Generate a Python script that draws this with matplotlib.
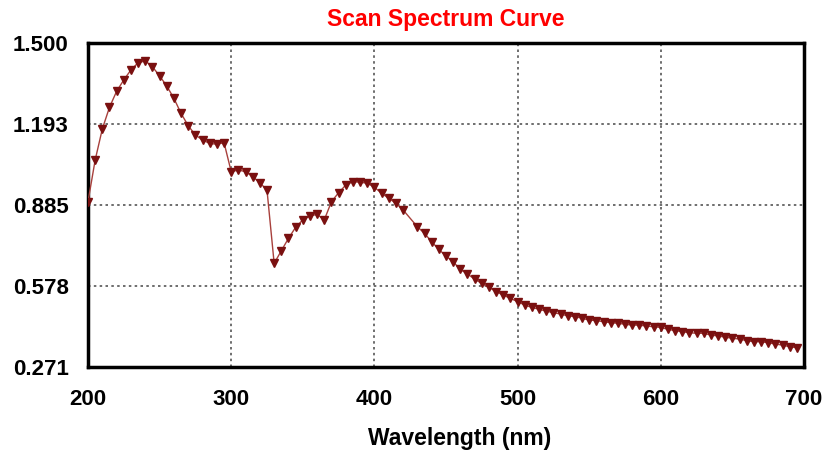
import matplotlib
matplotlib.use("Agg")
import matplotlib.pyplot as plt
import numpy as np

wavelength = [200, 205, 210, 215, 220, 225, 230, 235, 240, 245,
              250, 255, 260, 265, 270, 275, 280, 285, 290, 295,
              300, 305, 310, 315, 320, 325, 330, 335, 340, 345,
              350, 355, 360, 365, 370, 375, 380, 385, 390, 395,
              400, 405, 410, 415, 420, 430, 435, 440, 445, 450,
              455, 460, 465, 470, 475, 480, 485, 490, 495, 500,
              505, 510, 515, 520, 525, 530, 535, 540, 545, 550,
              555, 560, 565, 570, 575, 580, 585, 590, 595, 600,
              605, 610, 615, 620, 625, 630, 635, 640, 645, 650,
              655, 660, 665, 670, 675, 680, 685, 690, 695]
absorbance = [0.898, 1.056, 1.174, 1.256, 1.317, 1.360, 1.398, 1.425, 1.432, 1.410,
              1.375, 1.337, 1.290, 1.233, 1.186, 1.151, 1.132, 1.119, 1.116, 1.122,
              1.012, 1.018, 1.012, 0.993, 0.970, 0.942, 0.664, 0.712, 0.759, 0.801,
              0.829, 0.844, 0.850, 0.829, 0.898, 0.932, 0.961, 0.974, 0.972, 0.968,
              0.953, 0.930, 0.911, 0.892, 0.867, 0.803, 0.778, 0.746, 0.717, 0.692,
              0.670, 0.641, 0.624, 0.604, 0.588, 0.573, 0.557, 0.544, 0.531, 0.519,
              0.506, 0.497, 0.490, 0.483, 0.477, 0.472, 0.465, 0.462, 0.456, 0.449,
              0.447, 0.443, 0.439, 0.437, 0.433, 0.430, 0.430, 0.426, 0.424, 0.421,
              0.414, 0.409, 0.405, 0.401, 0.399, 0.399, 0.392, 0.389, 0.384, 0.380,
              0.377, 0.371, 0.367, 0.367, 0.363, 0.358, 0.354, 0.348, 0.344]

xticks = [200, 300, 400, 500, 600, 700]
yticks = [0.271, 0.578, 0.885, 1.193, 1.500]
ytick_labels = ["0.271", "0.578", "0.885", "1.193", "1.500"]

plt.rcParams['font.family'] = ['Liberation Sans', 'DejaVu Sans']

fig = plt.figure(figsize=(8.22, 4.5), dpi=100)
ax = fig.add_axes([88/822, 1-367/450, (804-88)/822, (367-43)/450])

ax.plot(wavelength, absorbance, color='#a8403c', linewidth=1.0,
        marker='v', markersize=5.5, markerfacecolor='#7a1010',
        markeredgecolor='#7a1010', zorder=3)

ax.set_xlim(200, 700)
ax.set_ylim(0.271, 1.500)
ax.set_xticks(xticks)
ax.set_xticklabels([str(t) for t in xticks], fontsize=16, fontweight='bold')
ax.set_yticks(yticks)
ax.set_yticklabels(ytick_labels, fontsize=16, fontweight='bold')
ax.tick_params(axis='both', length=0)
ax.tick_params(axis='x', pad=16)
ax.tick_params(axis='y', pad=14)

ax.grid(True, linestyle=(0, (1.5, 2)), color='#555555', linewidth=1.2)
ax.set_axisbelow(True)

for s in ax.spines.values():
    s.set_linewidth(2.5)
    s.set_color('black')

ax.set_xlabel("Wavelength (nm)", fontsize=16.5, fontweight='bold', labelpad=12, x=0.519)
ax.set_title("Scan Spectrum Curve", fontsize=16.5, fontweight='bold', color='red', pad=12)

fig.savefig("out.png", dpi=100)
